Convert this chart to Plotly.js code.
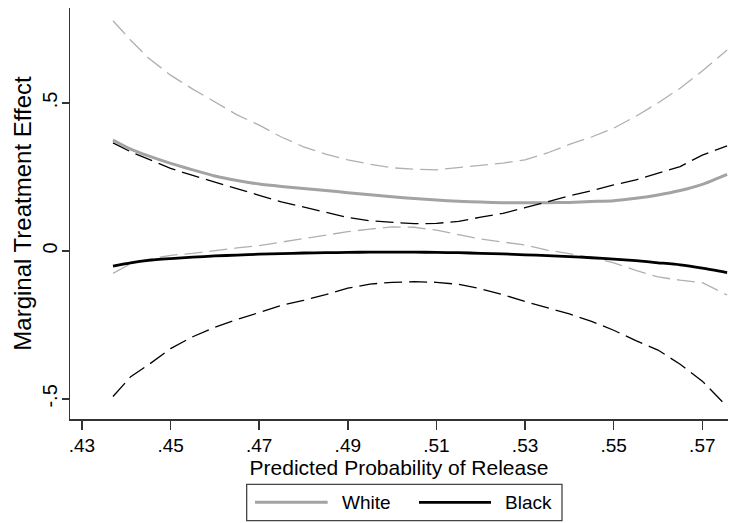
<!DOCTYPE html>
<html>
<head>
<meta charset="utf-8">
<script src="https://cdn.plot.ly/plotly-3.0.1.min.js"></script>
<style>html,body{margin:0;padding:0;background:#fff;}#chart{width:730px;height:523px;}</style>
</head>
<body>
<div id="chart"></div>
<script>
// Predicted probability of release (x grid)
var prob = [0.437, 0.441, 0.445, 0.45, 0.455, 0.46, 0.465, 0.47, 0.475, 0.48, 0.485, 0.49, 0.495, 0.50, 0.505, 0.51, 0.515, 0.52, 0.525, 0.53, 0.535, 0.54, 0.545, 0.55, 0.555, 0.56, 0.565, 0.57, 0.5756];

// White: marginal treatment effect and confidence bounds
var whiteMTE = [0.375, 0.344, 0.321, 0.296, 0.274, 0.253, 0.238, 0.226, 0.218, 0.211, 0.204, 0.197, 0.190, 0.183, 0.177, 0.172, 0.168, 0.165, 0.163, 0.163, 0.163, 0.164, 0.167, 0.170, 0.178, 0.189, 0.204, 0.225, 0.259];
var whiteUpper = [0.778, 0.712, 0.652, 0.594, 0.547, 0.503, 0.460, 0.425, 0.385, 0.352, 0.327, 0.308, 0.293, 0.281, 0.276, 0.274, 0.282, 0.289, 0.297, 0.308, 0.331, 0.360, 0.385, 0.415, 0.455, 0.500, 0.550, 0.608, 0.679];
var whiteLower = [-0.076, -0.043, -0.028, -0.015, -0.008, 0.002, 0.010, 0.018, 0.030, 0.042, 0.055, 0.065, 0.074, 0.081, 0.080, 0.070, 0.055, 0.040, 0.030, 0.020, 0.003, -0.010, -0.022, -0.040, -0.066, -0.088, -0.099, -0.107, -0.149];

// Black: marginal treatment effect and confidence bounds
var blackMTE = [-0.051, -0.040, -0.032, -0.026, -0.021, -0.017, -0.014, -0.011, -0.009, -0.007, -0.006, -0.005, -0.004, -0.004, -0.004, -0.005, -0.006, -0.008, -0.010, -0.013, -0.016, -0.019, -0.023, -0.028, -0.033, -0.040, -0.047, -0.058, -0.073];
var blackUpper = [0.365, 0.335, 0.310, 0.279, 0.255, 0.232, 0.209, 0.188, 0.166, 0.148, 0.129, 0.113, 0.102, 0.096, 0.092, 0.093, 0.100, 0.114, 0.127, 0.146, 0.167, 0.186, 0.203, 0.223, 0.240, 0.262, 0.285, 0.324, 0.355];
var blackLower = [-0.492, -0.425, -0.385, -0.330, -0.290, -0.258, -0.232, -0.209, -0.184, -0.167, -0.148, -0.126, -0.112, -0.106, -0.104, -0.106, -0.113, -0.128, -0.148, -0.171, -0.193, -0.213, -0.238, -0.268, -0.303, -0.335, -0.383, -0.440, -0.526];

// Tick values and labels
var xTickVals = [0.43, 0.45, 0.47, 0.49, 0.51, 0.53, 0.55, 0.57];
var xTickText = [".43", ".45", ".47", ".49", ".51", ".53", ".55", ".57"];
var yTickVals = [-0.5, 0, 0.5];
var yTickText = ["-.5", "0", ".5"];
var seriesNames = ["White", "Black"];

var FONT = "Liberation Sans, Arial, Helvetica, sans-serif";
var GRAY = "#a3a3a3", GRAYCI = "#b0b0b0";

var traces = [
  {x: prob, y: whiteUpper, mode: "lines", line: {color: GRAYCI, width: 1.3, dash: "18px,7px"}, showlegend: false, hoverinfo: "skip"},
  {x: prob, y: whiteLower, mode: "lines", line: {color: GRAYCI, width: 1.3, dash: "18px,7px"}, showlegend: false, hoverinfo: "skip"},
  {x: prob, y: whiteMTE, mode: "lines", name: seriesNames[0], line: {color: GRAY, width: 3, shape: "spline", smoothing: 0.6}, showlegend: false},
  {x: prob, y: blackUpper, mode: "lines", line: {color: "#000", width: 1.3, dash: "18px,7px"}, showlegend: false, hoverinfo: "skip"},
  {x: prob, y: blackLower, mode: "lines", line: {color: "#000", width: 1.3, dash: "18px,7px"}, showlegend: false, hoverinfo: "skip"},
  {x: prob, y: blackMTE, mode: "lines", name: seriesNames[1], line: {color: "#000", width: 2.8, shape: "spline", smoothing: 0.6}, showlegend: false}
];

var layout = {
  width: 730, height: 523,
  margin: {l: 70, r: 2, t: 8, b: 104, pad: 0},
  paper_bgcolor: "#fff", plot_bgcolor: "#fff",
  font: {family: FONT, color: "#000", size: 19},
  showlegend: false,
  xaxis: {
    range: [0.4273, 0.5758],
    tickmode: "array", tickvals: xTickVals, ticktext: xTickText,
    ticks: "outside", ticklen: 9, tickwidth: 1.5, tickcolor: "#333",
    showline: true, linecolor: "#333", linewidth: 1.5,
    showgrid: false, zeroline: false,
    tickfont: {family: FONT, size: 19, color: "#000"},
    title: {text: "Predicted Probability of Release", font: {family: FONT, size: 21, color: "#000"}, standoff: 0}
  },
  yaxis: {
    range: [-0.568, 0.821],
    tickmode: "array", tickvals: yTickVals, ticktext: yTickText, tickangle: -90,
    ticks: "outside", ticklen: 7, tickwidth: 1.5, tickcolor: "#333",
    showline: true, linecolor: "#333", linewidth: 1.5,
    showgrid: false, zeroline: false,
    ticklabelstandoff: -3,
    tickfont: {family: FONT, size: 20, color: "#000"},
    title: {text: "Marginal Treatment Effect", font: {family: FONT, size: 24, color: "#000"}, standoff: 0}
  },
  shapes: [
    {type: "rect", xref: "paper", yref: "paper", x0: 0.2685, x1: 0.7477, y0: -0.2474, y1: -0.1589, line: {color: "#444", width: 1.3}, fillcolor: "#fff"},
    {type: "line", xref: "paper", yref: "paper", x0: 0.2812, x1: 0.3916, y0: -0.2027, y1: -0.2027, line: {color: GRAY, width: 3}},
    {type: "line", xref: "paper", yref: "paper", x0: 0.5304, x1: 0.6398, y0: -0.2027, y1: -0.2027, line: {color: "#000", width: 2.8}}
  ],
  annotations: [
    {xref: "paper", yref: "paper", x: 0.4103, y: -0.2027, xanchor: "left", yanchor: "middle", text: seriesNames[0], showarrow: false, font: {family: FONT, size: 19, color: "#000"}},
    {xref: "paper", yref: "paper", x: 0.658, y: -0.2027, xanchor: "left", yanchor: "middle", text: seriesNames[1], showarrow: false, font: {family: FONT, size: 19, color: "#000"}}
  ]
};

Plotly.newPlot("chart", traces, layout, {displayModeBar: false, staticPlot: true});
</script>
</body>
</html>
